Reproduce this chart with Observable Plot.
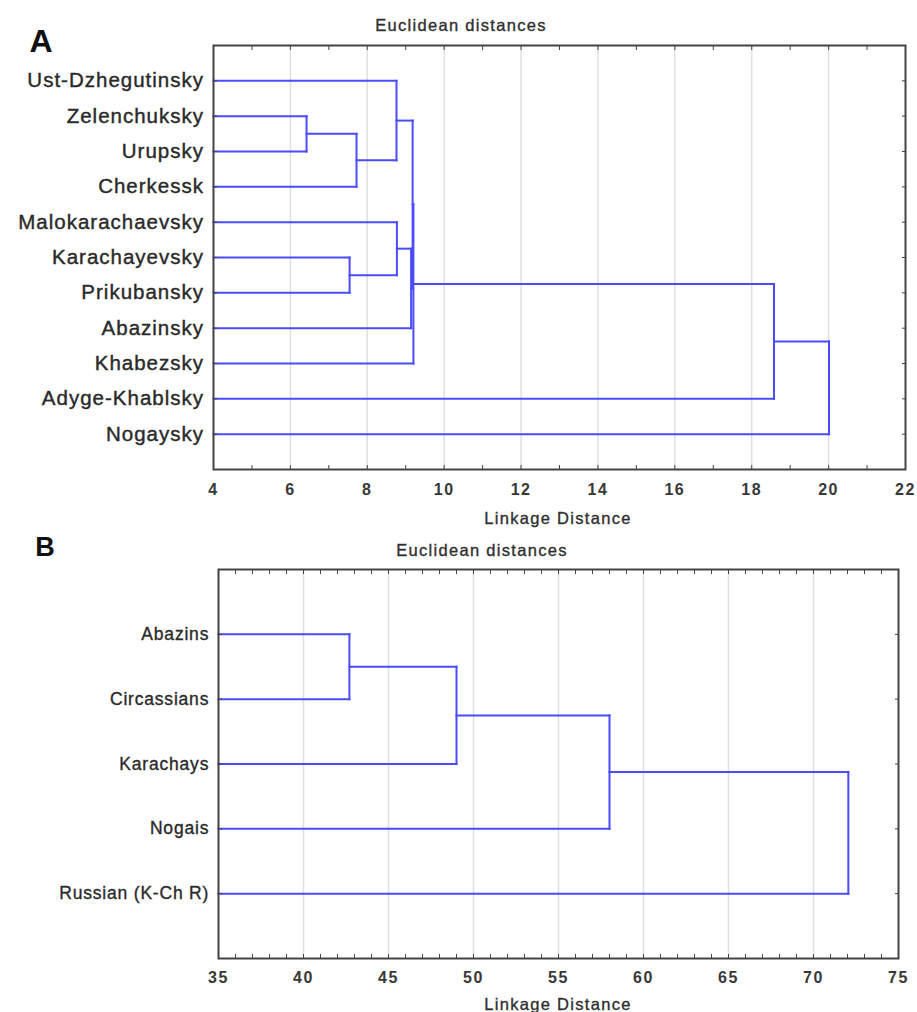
<!DOCTYPE html>
<html><head><meta charset="utf-8">
<script src="https://cdn.jsdelivr.net/npm/d3@7"></script>
<script src="https://cdn.jsdelivr.net/npm/@observablehq/plot@0.6"></script>
<style>
body{margin:0;background:#fff;}
#wrap{position:relative;width:917px;height:1012px;overflow:hidden;font-family:"Liberation Sans",Arial,sans-serif;color:#2f2f2f;}
.lbl{position:absolute;white-space:nowrap;line-height:1;transform:translate(-50%,-50%);}
.ttl{font-size:16.5px;letter-spacing:1.3px;-webkit-text-stroke:0.35px #2f2f2f;}
.pl{font-weight:bold;color:#111;}
.panel{position:absolute;left:0;}
#pa g[aria-label="y-axis tick label"] text{letter-spacing:1px;stroke:#2a2a2a;stroke-width:0.4px;}
#pb g[aria-label="y-axis tick label"] text{letter-spacing:0.8px;stroke:#2a2a2a;stroke-width:0.35px;}
.panel g[aria-label="x-axis tick label"] text{letter-spacing:1.5px;}
</style>
</head><body>
<div id="wrap">
  <div id="pa" class="panel" style="top:0"></div>
  <div id="pb" class="panel" style="top:530px"></div>
  <div class="lbl pl" style="left:41px;top:41px;font-size:32px">A</div>
  <div class="lbl pl" style="left:45px;top:547px;font-size:27px">B</div>
  <div class="lbl ttl" style="left:461px;top:25px">Euclidean distances</div>
  <div class="lbl ttl" style="left:558px;top:518px">Linkage Distance</div>
  <div class="lbl ttl" style="left:482px;top:550px">Euclidean distances</div>
  <div class="lbl ttl" style="left:558px;top:1004px">Linkage Distance</div>
</div>
<script>
// ---------- Panel A data ----------
const leavesA = ["Ust-Dzhegutinsky","Zelenchuksky","Urupsky","Cherkessk","Malokarachaevsky",
  "Karachayevsky","Prikubansky","Abazinsky","Khabezsky","Adyge-Khablsky","Nogaysky"];
// merge pairs: strings = leaves, numbers = index of earlier merge
const pairsA = [["Zelenchuksky","Urupsky"],["Karachayevsky","Prikubansky"],[0,"Cherkessk"],
  ["Ust-Dzhegutinsky",2],["Malokarachaevsky",1],[4,"Abazinsky"],[3,5],[6,"Khabezsky"],
  [7,"Adyge-Khablsky"],[8,"Nogaysky"]];
const heightsA = [6.42, 7.54, 7.72, 8.76, 8.77, 9.14, 9.18, 9.2, 18.58, 20.01];
const xTicksA = [4,6,8,10,12,14,16,18,20,22];

// ---------- Panel B data ----------
const leavesB = ["Abazins","Circassians","Karachays","Nogais","Russian (K-Ch R)"];
const pairsB = [["Abazins","Circassians"],[0,"Karachays"],[1,"Nogais"],[2,"Russian (K-Ch R)"]];
const heightsB = [42.7, 49.0, 58.0, 72.05];
const xTicksB = [35,40,45,50,55,60,65,70,75];

function buildSegments(leaves, pairs, heights, base) {
  const pos = new Map();
  leaves.forEach((name, i) => pos.set(name, {x: base, y: i + 1}));
  const segs = [];
  pairs.forEach(([a, b], k) => {
    const pa = pos.get(a), pb = pos.get(b), h = heights[k];
    segs.push({x1: pa.x, y1: pa.y, x2: h, y2: pa.y});
    segs.push({x1: pb.x, y1: pb.y, x2: h, y2: pb.y});
    segs.push({x1: h, y1: pa.y, x2: h, y2: pb.y});
    pos.set(k, {x: h, y: (pa.y + pb.y) / 2});
  });
  return segs;
}

function dendro({leaves, pairs, heights, xTicks, height, marginLeft, marginRight, marginTop, marginBottom, labelSize, labelPad, tickPad}) {
  const xMin = xTicks[0], xMax = xTicks[xTicks.length - 1];
  const segs = buildSegments(leaves, pairs, heights, xMin);
  const idx = leaves.map((d, i) => i + 1);
  const minor = d3.range(xMin, xMax + 1);
  const blank = () => "";
  return Plot.plot({
    width: 917, height, marginLeft, marginRight, marginTop, marginBottom,
    style: {fontFamily: "'Liberation Sans', Arial, sans-serif", color: "#2f2f2f", background: "transparent", overflow: "visible"},
    x: {domain: [xMin, xMax]},
    y: {domain: [0, leaves.length + 1], reverse: true},
    marks: [
      Plot.gridX({ticks: xTicks.slice(1, -1), stroke: "#e0e0e0", strokeOpacity: 1, strokeWidth: 1.5}),
      Plot.link(segs, {x1: "x1", y1: "y1", x2: "x2", y2: "y2", stroke: "#4b4bff", strokeWidth: 2, strokeLinecap: "square"}),
      Plot.frame({stroke: "#444", strokeWidth: 2}),
      Plot.axisX({anchor: "bottom", ticks: minor, tickSize: 4, dy: -4, tickFormat: blank, stroke: "#444", label: null}),
      Plot.axisX({anchor: "top", ticks: minor, tickSize: 4, dy: 4, tickFormat: blank, stroke: "#444", label: null}),
      Plot.axisX({anchor: "bottom", ticks: xTicks, tickSize: 0, tickPadding: tickPad, fontSize: 16, fontWeight: "bold", fill: "#383838", label: null}),
      Plot.axisY({anchor: "left", ticks: idx, tickSize: 4, dx: 4, tickFormat: blank, stroke: "#444", label: null}),
      Plot.axisY({anchor: "right", ticks: idx, tickSize: 4, dx: -4, tickFormat: blank, stroke: "#444", label: null}),
      Plot.axisY({anchor: "left", ticks: idx, tickSize: 0, tickPadding: labelPad, tickFormat: i => leaves[i - 1], fontSize: labelSize, fill: "#2a2a2a", label: null})
    ]
  });
}

document.getElementById("pa").append(dendro({
  leaves: leavesA, pairs: pairsA, heights: heightsA, xTicks: xTicksA,
  height: 530, marginLeft: 213, marginRight: 12, marginTop: 45, marginBottom: 61,
  labelSize: 20.5, labelPad: 9.5, tickPad: 14
}));
document.getElementById("pb").append(dendro({
  leaves: leavesB, pairs: pairsB, heights: heightsB, xTicks: xTicksB,
  height: 482, marginLeft: 218, marginRight: 19, marginTop: 39, marginBottom: 54,
  labelSize: 17.5, labelPad: 9.3, tickPad: 13
}));
</script>
</body></html>
